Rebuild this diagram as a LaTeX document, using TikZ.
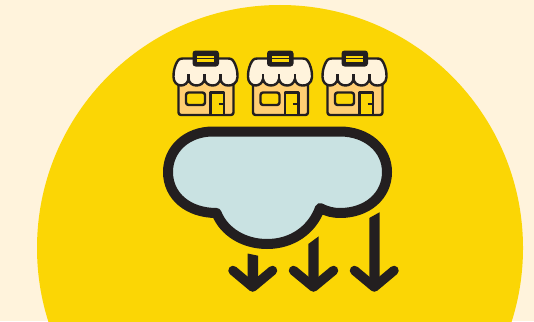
\documentclass[tikz,border=0pt]{standalone}
\usepackage{xcolor}
\usepackage{tikz}
\definecolor{shopcream}{HTML}{FFF3DC}
\definecolor{shopyellow}{HTML}{FBD605}
\definecolor{shopink}{HTML}{231F20}
\definecolor{shoporange}{HTML}{FFCE73}
\definecolor{cloudblue}{HTML}{C9E2E2}
\tikzset{
  shopline/.style={draw=shopink, line width=2.4pt, line join=round, rounded corners=2.5pt},
  cloudline/.style={draw=shopink, fill=cloudblue, line width=10pt, line join=round},
  headline/.style={draw=shopink, line width=9.5pt, line cap=round, line join=round},
  shaft/.style={fill=shopink}
}
\begin{document}
\begin{tikzpicture}[x=1pt,y=-1pt]
  \useasboundingbox (0,0) rectangle (534,321);
  \fill[shopcream] (0,0) rectangle (534,321);
  % Disc
  \begin{scope}
    \clip (0,0) rectangle (534,321);
    \fill[shopyellow] (280,248) circle (243);
  \end{scope}

  % Shops
  \foreach \x in {0,74.5,149} {
    \begin{scope}[shift={(\x,0)}]
      \draw[shopline, fill=shoporange] (178.5,80) -- (178.5,115) -- (233.5,115) -- (233.5,80) -- cycle;
      \draw[shopline, fill=shopyellow] (186,92.5) rectangle (205,105);
      \draw[shopline, fill=shopyellow, rounded corners=0pt] (210.5,115) -- (210.5,92.5) -- (224,92.5) -- (224,115);
      \draw[shopline, rounded corners=0pt] (218.5,104) -- (224,104);
      \draw[shopline, rounded corners=0pt] (208,115) -- (228,115);
      \draw[shopline, fill=shopcream, rounded corners=0pt] (183,58.5) -- (228,58.5)
        .. controls (232,58.5) and (233,60) .. (235,64)
        .. controls (237,69) and (237.5,72) .. (237.5,77)
        .. controls (237.5,83) and (232,86) .. (228,85.5)
        .. controls (224,85.5) and (221,83) .. (220.5,79)
        .. controls (219,84) and (216,85.5) .. (212.5,85.5)
        .. controls (208.5,85.5) and (205,83) .. (204.5,79)
        .. controls (204,83) and (200.5,85.5) .. (196.5,85.5)
        .. controls (192.5,85.5) and (189,83) .. (188.5,79)
        .. controls (188,83) and (184.5,85.5) .. (181,85.5)
        .. controls (177,85.5) and (173.5,82) .. (173.5,77)
        .. controls (173.5,72) and (174,69) .. (176,64)
        .. controls (178,60) and (179,58.5) .. (183,58.5) -- cycle;
      \draw[shopline] (188.5,79) -- (188.5,74);
      \draw[shopline] (204.5,79) -- (204.5,74);
      \draw[shopline] (220.5,79) -- (220.5,74);
      \fill[shopink, rounded corners=3pt] (192.5,50.5) rectangle (219,66.5);
      \fill[shopyellow] (197,56) rectangle (214,61.5);
      \fill[shopink] (197,58) rectangle (214,59);
    \end{scope}
  }

  % Cloud
  \draw[cloudline] (213,131.5) -- (340,131.5)
    .. controls (367,131.5) and (387,149) .. (387,172)
    .. controls (387,196) and (367,213) .. (340,213)
    .. controls (333,213) and (327,211.5) .. (320,208)
    .. controls (312,230) and (292,244) .. (267,244)
    .. controls (244,244) and (224,232) .. (216.5,213)
    .. controls (188,213) and (168,196) .. (168,172)
    .. controls (168,149) and (187,131.5) .. (213,131.5) -- cycle;

  % Arrows
  \fill[shaft] (247.5,253.5) -- (258,255.7) -- (258,288) -- (247.5,288) -- cycle;
  \draw[headline] (233,270.5) -- (252.7,287) -- (272.5,270.5);
  \fill[shaft] (308.3,244) -- (318.7,236.3) -- (318.7,288) -- (308.3,288) -- cycle;
  \draw[headline] (293.5,270.5) -- (313.5,287) -- (333.5,270.5);
  \fill[shaft] (369.3,218) -- (379.5,212.3) -- (379.5,288) -- (369.3,288) -- cycle;
  \draw[headline] (354.5,270.5) -- (374.3,287) -- (394,270.5);
\end{tikzpicture}
\end{document}
